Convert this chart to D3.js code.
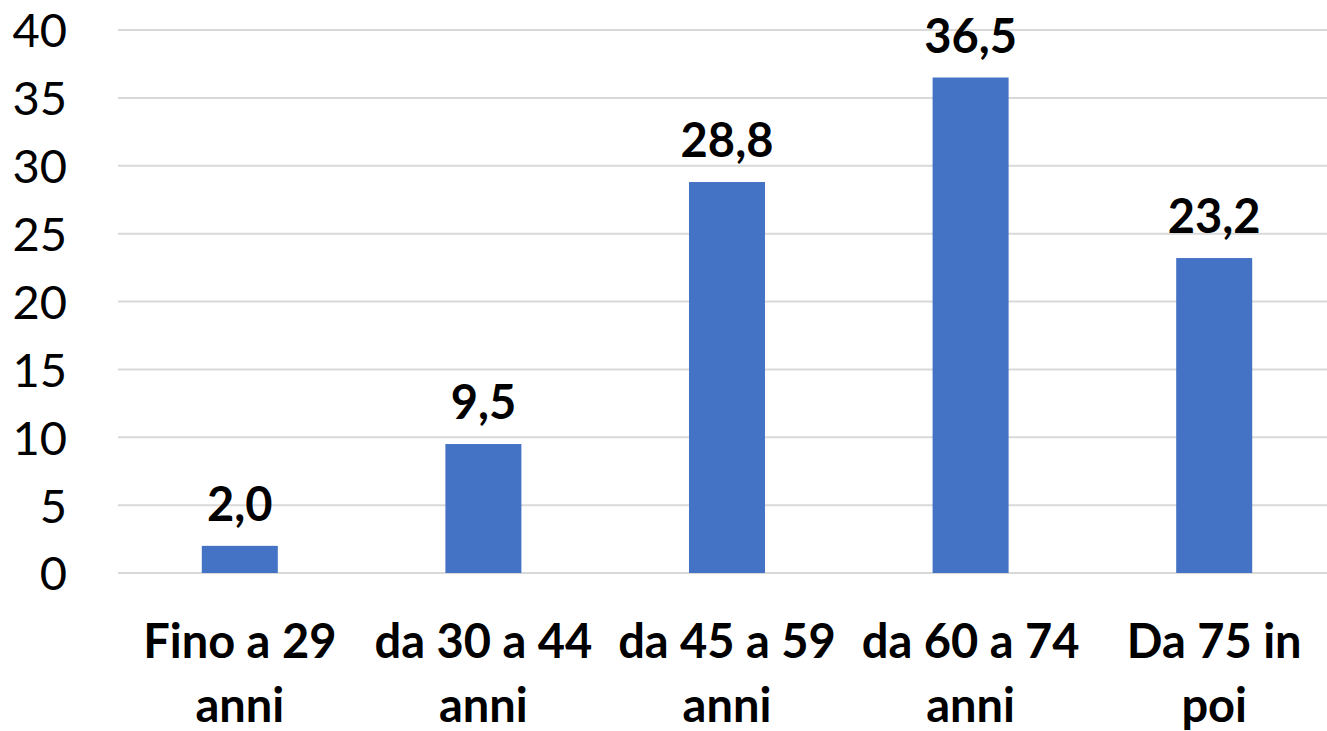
<!DOCTYPE html>
<html>
<head>
<meta charset="utf-8">
<script src="https://cdn.jsdelivr.net/npm/d3@7"></script>
<style>
  body { margin: 0; background: #fff; }
  svg { display: block; }
</style>
</head>
<body>
<svg id="chart"></svg>
<script>
// ===========================
// Data
// ===========================
const categories = ["Fino a 29 anni", "da 30 a 44 anni", "da 45 a 59 anni", "da 60 a 74 anni", "Da 75 in poi"];
const categoryLines = [["Fino a 29", "anni"], ["da 30 a 44", "anni"], ["da 45 a 59", "anni"], ["da 60 a 74", "anni"], ["Da 75 in", "poi"]];
const values = [2.0, 9.5, 28.8, 36.5, 23.2];
const yTicks = [0, 5, 10, 15, 20, 25, 30, 35, 40];

// ===========================
// Layout
// ===========================
const width = 1327, height = 731;
const margin = { top: 30, right: -9, bottom: 158, left: 118 };
const innerW = width - margin.left - margin.right,
      innerH = height - margin.top - margin.bottom;
const fontFamily = "Lato, 'Open Sans', sans-serif";

const svg = d3.select("#chart")
  .attr("width", width)
  .attr("height", height);

const g = svg.append("g")
  .attr("transform", `translate(${margin.left},${margin.top})`);

// X Scale — categories
const x = d3.scaleBand()
  .domain(categories)
  .range([0, innerW])
  .padding(0);
const barW = x.bandwidth() * 0.312;

// Y Scale
const y = d3.scaleLinear()
  .domain([0, 40])
  .range([innerH, 0]);

// Gridlines
g.selectAll(".grid")
  .data(yTicks)
  .enter()
  .append("line")
  .attr("class", "grid")
  .attr("x1", 0)
  .attr("x2", width - margin.left)
  .attr("y1", d => y(d))
  .attr("y2", d => y(d))
  .attr("stroke", "#d9d9d9")
  .attr("stroke-width", 2);

// Y Axis labels
const yAxis = g.append("g")
  .call(d3.axisLeft(y).tickValues(yTicks).tickSize(0).tickPadding(51));
yAxis.select(".domain").remove();
yAxis.selectAll("text")
  .style("font-family", fontFamily)
  .style("font-size", "47px")
  .attr("fill", "#000")
  .attr("dy", "0.36em");

// Bars
g.selectAll(".bar")
  .data(values)
  .enter()
  .append("rect")
  .attr("class", "bar")
  .attr("x", (d, i) => x(categories[i]) + x.bandwidth() / 2 - barW / 2)
  .attr("y", d => y(d))
  .attr("width", barW)
  .attr("height", d => innerH - y(d))
  .attr("fill", "#4472c4");

// Value labels
g.selectAll(".val")
  .data(values)
  .enter()
  .append("text")
  .attr("class", "val")
  .attr("x", (d, i) => x(categories[i]) + x.bandwidth() / 2)
  .attr("y", d => y(d) - 25)
  .attr("text-anchor", "middle")
  .style("font-family", fontFamily)
  .style("font-size", "47px")
  .style("font-weight", "bold")
  .text(d => d.toFixed(1).replace(".", ","));

// Category labels
categories.forEach((c, i) => {
  const t = g.append("text")
    .attr("x", x(c) + x.bandwidth() / 2)
    .attr("y", innerH + 85)
    .attr("text-anchor", "middle")
    .style("font-family", fontFamily)
    .style("font-size", "47px")
    .style("font-weight", "bold");
  categoryLines[i].forEach((line, j) => {
    t.append("tspan")
      .attr("x", x(c) + x.bandwidth() / 2)
      .attr("dy", j === 0 ? 0 : 64)
      .text(line);
  });
});
</script>
</body>
</html>
